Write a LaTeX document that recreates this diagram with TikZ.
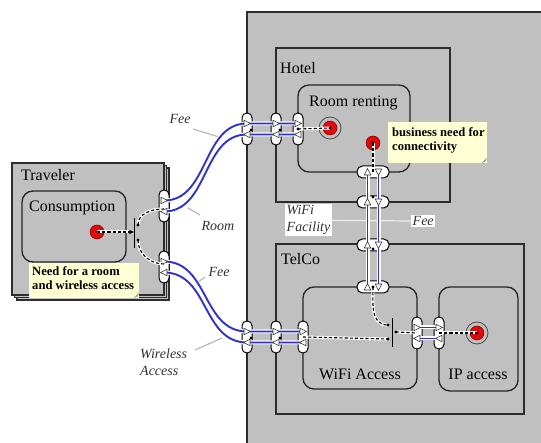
\documentclass[tikz,border=0pt]{standalone}
\usepackage{fontspec}
\setmainfont{Liberation Serif}
\usetikzlibrary{arrows.meta,calc}
\definecolor{boxgray}{RGB}{192,192,192}
\definecolor{framec}{RGB}{45,45,45}
\definecolor{flowblue}{RGB}{50,50,200}
\definecolor{notey}{RGB}{255,255,212}
\definecolor{leadc}{RGB}{185,185,185}
\definecolor{dotred}{RGB}{225,10,10}
\tikzset{
  tri/.pic={\draw[fill=white,line width=0.55pt,draw=black!80] (-3,-3.3) -- (3.6,0) -- (-3,3.3) -- cycle;}
}
\begin{document}
\begin{tikzpicture}[x=1pt,y=-1pt,
  frame/.style={draw=framec,line width=1.7pt,fill=boxgray},
  rbox/.style={draw=black!85,line width=1.3pt,fill=boxgray,rounded corners=11pt},
  vport/.style={draw=black,fill=white,line width=1pt,rounded corners=4.8pt,minimum width=10pt,minimum height=32pt,inner sep=0pt},
  hport/.style={draw=black,fill=white,line width=1pt,rounded corners=5.5pt,minimum width=32pt,minimum height=12pt,inner sep=0pt},
  flow/.style={draw=flowblue,line width=1.9pt,preaction={draw=white,line width=4pt}},
  dl/.style={draw=black,line width=1.1pt,dash pattern=on 3.2pt off 2pt,preaction={draw=white,line width=3pt,solid}},
  barline/.style={draw=black,line width=1pt},
  lbl/.style={font=\fontsize{14}{17}\selectfont\itshape,text=black!80},
  ttl/.style={font=\fontsize{16}{19}\selectfont,inner sep=0pt},
  notefill/.style={fill=notey,inner sep=0pt},
  notetext/.style={inner sep=0pt,align=left,font=\fontsize{12.6}{14.5}\selectfont\bfseries},
  lead/.style={draw=leadc,line width=1.2pt},
  jdot/.style={fill=black,circle,inner sep=0pt,minimum size=3.4pt},
  reddot/.style={circle,fill=dotred,draw=red!45!black,line width=0.5pt,minimum size=14pt,inner sep=0pt},
  ring/.style={circle,draw=black!70,line width=0.8pt,minimum size=22pt,inner sep=0pt}
]
\useasboundingbox (0,0) rectangle (541,443);
\clip (0,0) rectangle (541,443);
\fill[white] (0,0) rectangle (541,443);

% ---- frames ----
\draw[frame] (247,12) rectangle (570,470);
\draw[frame,line width=1.8pt] (276,48) rectangle (450,202);
\draw[rbox] (298,85) rectangle (410,172);
\draw[frame,line width=1.8pt] (276,244) rectangle (524,414);
\draw[rbox] (303,287) rectangle (417,389);
\draw[rbox] (439,287) rectangle (518,391);
% traveler stack
\draw[frame,line width=1.2pt] (17,168) rectangle (169,300);
\draw[frame,line width=1.2pt] (14.5,165.5) rectangle (166.5,297.5);
\draw[frame,line width=1.4pt] (12,163) rectangle (164,295);
\draw[rbox] (22,191) rectangle (126,262);

% ---- titles ----
\node[ttl,anchor=base west] (tTrav) at (21,181) {Traveler};
\node[ttl,anchor=base west] (tCons) at (29,212) {Consumption};
\node[ttl,anchor=base west] (tHot) at (280,74) {Hotel};
\node[ttl,anchor=base west] (tRoom) at (309,107) {Room renting};
\node[ttl,anchor=base west] (tTel) at (281,265) {TelCo};
\node[ttl,anchor=base] (tWifi) at (360,380) {WiFi Access};
\node[ttl,anchor=base] (tIP) at (478,380) {IP access};

% ---- ports ----
\node[vport] (TP1) at (164,206) {};
\node[vport] (TP2) at (164,267) {};
\node[vport] (H1) at (247,129) {};
\node[vport] (H2) at (276,129) {};
\node[vport] (H3) at (298,129) {};
\node[vport] (L1) at (247,337) {};
\node[vport] (L2) at (276,337) {};
\node[vport] (L3) at (303,337) {};
\node[vport] (W1) at (417,333) {};
\node[vport] (W2) at (439,333) {};
\node[hport] (V1) at (373,172) {};
\node[hport] (V2) at (373,202) {};
\node[hport] (V3) at (373,245) {};
\node[hport] (V4) at (373,287) {};

% ---- leader lines for labels ----
\node[lbl,anchor=center] (feeA) at (180,119) {Fee};
\coordinate (feeAa) at (193,129);
\coordinate (feeAb) at (219,137);
\draw[lead] (feeAa) -- (feeAb);
\node[lbl,anchor=center] (roomL) at (218,226) {Room};
\coordinate (roomLa) at (200,215);
\coordinate (roomLb) at (188,208);
\draw[lead] (roomLa) -- (roomLb);
\node[lbl,anchor=center] (feeB) at (219,272) {Fee};
\coordinate (feeBa) at (205,277);
\coordinate (feeBb) at (197,283);
\draw[lead] (feeBa) -- (feeBb);
\node[lbl,anchor=north west,align=left,inner sep=0pt] (wirel) at (140,349) {Wireless\\Access};
\coordinate (wirela) at (195,350);
\coordinate (wirelb) at (222,338);
\draw[lead] (wirela) -- (wirelb);
\node[lbl,fill=white,inner sep=1.5pt,align=left,anchor=north west] (wfl) at (285,204) {WiFi\\Facility};
\node[lbl,fill=white,inner sep=1.5pt,anchor=west] (feeC) at (411,221) {Fee};
\draw[lead,draw=white!93!black] (wfl.east) -- (feeC.west);

% ---- flows ----
\draw[flow] ($(TP1)+(0,-5.5)$) .. controls +(45,0) and +(-45,0) .. ($(H1)+(0,-5.5)$) -- ($(H3)+(0,-5.5)$);
\draw[flow] ($(TP1)+(0,5.5)$) .. controls +(45,0) and +(-45,0) .. ($(H1)+(0,5.5)$) -- ($(H3)+(0,5.5)$);
\draw[flow] ($(TP2)+(0,-5.5)$) .. controls +(45,0) and +(-45,0) .. ($(L1)+(0,-5.5)$) -- ($(L3)+(0,-5.5)$);
\draw[flow] ($(TP2)+(0,5.5)$) .. controls +(45,0) and +(-45,0) .. ($(L1)+(0,5.5)$) -- ($(L3)+(0,5.5)$);
\draw[flow] ($(V1)+(-5.5,0)$) -- ($(V4)+(-5.5,0)$);
\draw[flow] ($(V1)+(5.5,0)$) -- ($(V4)+(5.5,0)$);
\draw[flow] ($(W1)+(0,-5.5)$) -- ($(W2)+(0,-5.5)$);
\draw[flow] ($(W1)+(0,5.5)$) -- ($(W2)+(0,5.5)$);

% ---- arrow triangles ----
\foreach \p in {TP1,TP2,H1,H2,H3,L1,L2,L3,W1,W2}{
  \pic at ($(\p)+(0,-5.5)$) {tri};
  \pic[rotate=180] at ($(\p)+(0,5.5)$) {tri};
}
\foreach \p in {V1,V2,V3,V4}{
  \pic[rotate=90] at ($(\p)+(-5.5,0)$) {tri};
  \pic[rotate=-90] at ($(\p)+(5.5,0)$) {tri};
}
% junction dots on ports
\node[jdot] (jH1) at (251,130) {};
\node[jdot] (jH2) at (280,130) {};
\node[jdot] (jL1) at (251,338) {};
\node[jdot] (jL2) at (280,338) {};
\node[jdot] (jV2) at (373,197) {};
\node[jdot] (jV3) at (373,249) {};

% ---- red dots ----
\node[reddot] (cdot) at (97,232) {};
\node[ring] (rring) at (330,128) {};
\node[reddot] (rdot) at (330,128) {};
\node[reddot] (bdot) at (373,143) {};
\node[ring] (ipring) at (477,333) {};
\node[reddot] (ipdot) at (477,333) {};

% ---- traveler internal ----
\coordinate (tbar) at (134,232);
\coordinate (tbarT) at (134,218);
\coordinate (tbarB) at (134,248);
\draw[barline] (tbarT) -- (tbarB);
\coordinate (tA) at (138,225);
\coordinate (tB) at (138,240);
\draw[dl,-{Stealth[length=5pt,width=4.5pt]}] (cdot.center) -- (tbar);
\draw[dl] (tA) to[out=90,in=180] ($(TP1)+(0,3)$);
\draw[dl] (tB) to[out=-90,in=180] ($(TP2)+(0,-3)$);
\node[jdot] at (tA) {};
\node[jdot] at (tB) {};

% ---- hotel internal ----
\draw[dl] (H3.center) -- (rdot.center);
\draw[dl] (bdot.center) -- (V1.center);
\node[jdot] at (rdot.center) {};
\node[jdot] at (bdot.center) {};
\node[jdot] at (H3.center) {};

% ---- telco internal ----
\coordinate (wbarT) at (392,318);
\coordinate (wbarB) at (392,347);
\draw[barline] (wbarT) -- (wbarB);
\coordinate (wA) at (388,325);
\coordinate (wB) at (388,339);
\coordinate (wC) at (396,332);
\draw[dl] (V4.center) to[out=-90,in=180,looseness=1.1] (wA);
\draw[dl] (L3.center) -- (wB);
\draw[dl] (wC) -- (W1.center);
\draw[dl] (W2.center) -- (ipdot.center);
\node[jdot] at (wA) {};
\node[jdot] at (wB) {};
\node[jdot] at (wC) {};
\node[jdot] at (ipdot.center) {};
\node[jdot] at (V4.center) {};

% ---- notes ----
\node[notefill,anchor=north west,minimum width=110pt,minimum height=35pt] (tnote) at (29,263) {};
\node[notetext,anchor=north west] (tnoteT) at (32,266) {Need for a room\\and wireless access};
\fill[black!45] ($(tnote.south east)+(-6,0)$) -- ($(tnote.south east)+(0,-6)$) -- ($(tnote.south east)+(-2,-2)$) -- cycle;
\node[notefill,anchor=north west,minimum width=99pt,minimum height=41pt] (hnote) at (388,122) {};
\node[notetext,anchor=north west] (hnoteT) at (392,127) {business need for\\connectivity};
\fill[black!45] ($(hnote.south east)+(-6,0)$) -- ($(hnote.south east)+(0,-6)$) -- ($(hnote.south east)+(-2,-2)$) -- cycle;
\end{tikzpicture}
\end{document}
